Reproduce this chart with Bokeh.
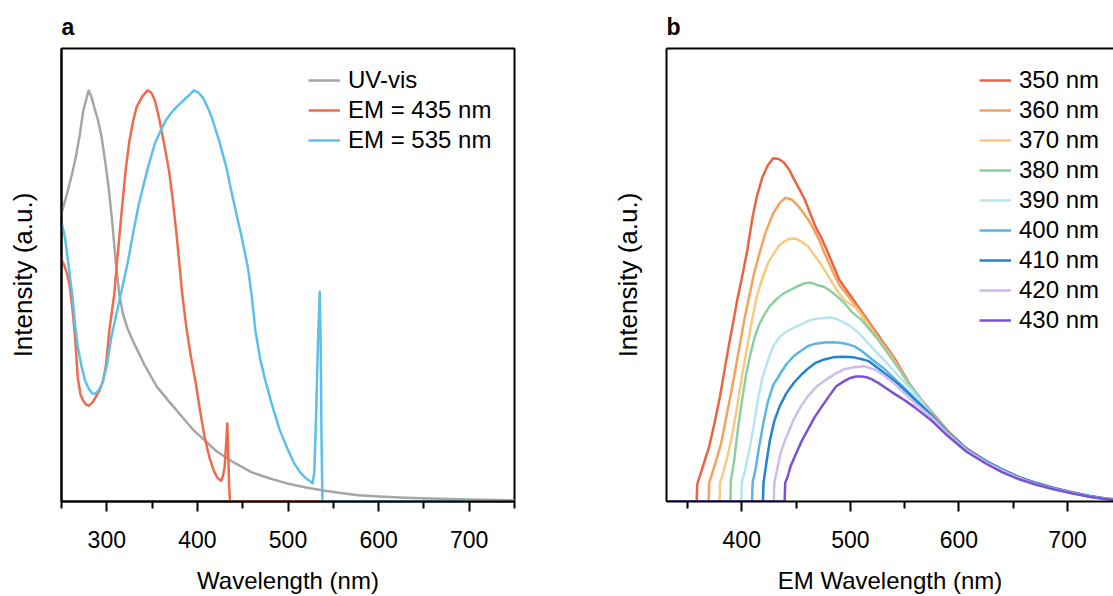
from bokeh.plotting import figure
from bokeh.models import Range1d, FixedTicker, LinearAxis, Legend, LegendItem
from bokeh.layouts import row
from bokeh.embed import file_html
from bokeh.resources import INLINE

FONT = "Liberation Sans"

# ---------------- Panel a data ----------------
uv_nm = [250, 255, 258, 262, 266, 270, 274, 277, 280, 283, 286, 290, 294, 298, 302, 306, 310, 314, 318, 323,
         329, 341, 355, 370, 380, 395, 410, 420, 440, 460, 480, 499, 520, 539, 560, 578, 600, 630, 657, 700, 750]
uv_v = [0.70, 0.74, 0.765, 0.80, 0.84, 0.89, 0.95, 0.975, 1.0, 0.985, 0.96, 0.93, 0.89, 0.83, 0.764, 0.68, 0.58,
        0.50, 0.455, 0.42, 0.39, 0.335, 0.28, 0.24, 0.214, 0.175, 0.145, 0.124, 0.095, 0.071, 0.056, 0.044,
        0.034, 0.027, 0.02, 0.015, 0.012, 0.009, 0.007, 0.005, 0.003]

em435_nm = [250, 253, 256, 259, 262, 265, 268, 271, 274, 277, 280, 284, 288, 292, 296, 299, 303, 308, 312, 317,
            321, 325, 329, 333, 339, 345, 349, 353, 357, 361, 365, 369, 373, 377, 383, 388, 393, 398, 403, 408,
            413, 418, 422, 426, 428, 430, 432, 433, 434, 435, 436, 450, 500, 535]
em435_v = [0.59, 0.575, 0.555, 0.525, 0.47, 0.40, 0.30, 0.26, 0.245, 0.236, 0.233, 0.24, 0.255, 0.27, 0.295,
           0.33, 0.42, 0.50, 0.60, 0.72, 0.81, 0.878, 0.925, 0.96, 0.985, 1.0, 0.995, 0.976, 0.94, 0.895, 0.85,
           0.80, 0.73, 0.65, 0.51, 0.42, 0.35, 0.29, 0.22, 0.156, 0.11, 0.075, 0.058, 0.05, 0.06, 0.083, 0.15,
           0.19, 0.12, 0.04, 0.0, 0.0, 0.0, 0.0]

em535_nm = [250, 254, 258, 262, 265, 268, 272, 276, 280, 284, 287, 291, 295, 300, 305, 312, 317, 323, 329, 335,
            341, 347, 353, 359, 365, 371, 377, 383, 388, 392, 396, 401, 406, 411, 416, 420, 424, 428, 432, 436,
            440, 444, 448, 452, 456, 460, 464, 469, 475, 483, 491, 499, 507, 513, 519, 524, 527, 529, 531, 533,
            535, 536, 537, 538, 560, 600, 650, 700]
em535_v = [0.68, 0.64, 0.57, 0.50, 0.43, 0.375, 0.33, 0.294, 0.275, 0.263, 0.262, 0.27, 0.287, 0.33, 0.40, 0.47,
           0.52, 0.58, 0.652, 0.72, 0.774, 0.825, 0.87, 0.90, 0.927, 0.945, 0.96, 0.972, 0.983, 0.99, 1.0, 0.995,
           0.983, 0.96, 0.934, 0.905, 0.878, 0.845, 0.813, 0.77, 0.73, 0.69, 0.652, 0.61, 0.565, 0.50, 0.416,
           0.35, 0.294, 0.23, 0.173, 0.13, 0.092, 0.072, 0.058, 0.05, 0.044, 0.07, 0.21, 0.38, 0.51, 0.40, 0.15,
           0.0, 0.0, 0.0, 0.0, 0.0]

a_ticks = [300, 400, 500, 600, 700]
a_minor = [250, 350, 450, 550, 650, 750]

# ---------------- Panel b data ----------------
b_labels = ["350 nm", "360 nm", "370 nm", "380 nm", "390 nm", "400 nm", "410 nm", "420 nm", "430 nm"]
b_colors = ["#EA6441", "#F5A25E", "#F8CA80", "#8DCFA0", "#B8E3F2", "#5AB6E4", "#2383D1", "#CDBDEA", "#7B52D3"]

x350 = [330, 358.5, 359, 361, 365, 370, 375, 380, 384, 388, 392, 396, 400, 405, 410, 414, 419, 424, 429, 434, 439,
        444, 448, 453, 458, 463, 468, 473, 478, 484, 490, 500, 510, 520, 530, 542, 555, 565, 575, 590, 607, 625,
        640, 656, 672, 689, 705, 721, 735, 745]
y350 = [0, 0, 0.05, 0.07, 0.11, 0.16, 0.23, 0.307, 0.38, 0.453, 0.52, 0.59, 0.65, 0.73, 0.83, 0.89, 0.945, 0.98,
        1.0, 0.998, 0.987, 0.965, 0.94, 0.91, 0.88, 0.84, 0.80, 0.77, 0.735, 0.69, 0.645, 0.60, 0.555, 0.51,
        0.465, 0.41, 0.34, 0.298, 0.26, 0.205, 0.155, 0.118, 0.093, 0.07, 0.053, 0.038, 0.026, 0.015, 0.008, 0.005]

x360 = [330, 369.5, 370, 372, 376, 381, 386, 391, 395, 399, 403, 407, 411, 416, 422, 429, 435, 440, 446, 452, 457,
        461, 466, 471, 476, 481, 486, 490, 500, 510, 520, 530, 542, 555, 565, 575, 590, 607, 625, 640, 656, 672,
        689, 705, 721, 735, 745]
y360 = [0, 0, 0.055, 0.075, 0.115, 0.17, 0.25, 0.33, 0.40, 0.47, 0.54, 0.60, 0.66, 0.72, 0.785, 0.84, 0.87, 0.885,
        0.88, 0.861, 0.84, 0.822, 0.795, 0.764, 0.725, 0.69, 0.655, 0.63, 0.59, 0.55, 0.505, 0.46, 0.405, 0.337,
        0.295, 0.257, 0.203, 0.153, 0.117, 0.092, 0.069, 0.052, 0.037, 0.025, 0.015, 0.008, 0.005]

x370 = [330, 379.5, 380, 382, 386, 391, 396, 401, 405, 409, 414, 420, 425, 429, 434, 439, 444, 450, 456, 461, 466,
        470, 474, 480, 487, 495, 505, 515, 525, 535, 545, 555, 565, 575, 590, 607, 625, 640, 656, 672, 689, 705,
        721, 735, 745]
y370 = [0, 0, 0.055, 0.075, 0.12, 0.19, 0.28, 0.38, 0.45, 0.52, 0.60, 0.66, 0.70, 0.72, 0.745, 0.757, 0.765,
        0.766, 0.755, 0.744, 0.72, 0.705, 0.686, 0.655, 0.618, 0.585, 0.565, 0.52, 0.475, 0.435, 0.385, 0.335,
        0.295, 0.255, 0.20, 0.152, 0.116, 0.091, 0.068, 0.051, 0.036, 0.025, 0.014, 0.008, 0.005]

x380 = [330, 389.5, 390, 393, 396, 400, 404, 408, 412, 416, 420, 426, 432, 438, 444, 450, 457, 464, 470, 476, 481,
        487, 494, 502, 510, 518, 526, 535, 545, 555, 565, 575, 590, 607, 625, 640, 656, 672, 689, 705, 721, 735, 745]
y380 = [0, 0, 0.06, 0.12, 0.20, 0.29, 0.37, 0.43, 0.48, 0.515, 0.54, 0.57, 0.59, 0.605, 0.615, 0.625, 0.635,
        0.638, 0.63, 0.625, 0.615, 0.60, 0.58, 0.55, 0.53, 0.50, 0.47, 0.43, 0.385, 0.34, 0.297, 0.256, 0.202,
        0.153, 0.116, 0.091, 0.068, 0.051, 0.036, 0.025, 0.014, 0.008, 0.005]

x390 = [330, 399.5, 400, 403, 407, 411, 415, 419, 424, 429, 435, 441, 447, 454, 461, 468, 475, 482, 489, 495, 500,
        508, 516, 524, 533, 543, 555, 565, 575, 590, 607, 625, 640, 656, 672, 689, 705, 721, 735, 745]
y390 = [0, 0, 0.055, 0.09, 0.15, 0.22, 0.30, 0.36, 0.41, 0.453, 0.48, 0.495, 0.505, 0.515, 0.526, 0.532, 0.535,
        0.536, 0.53, 0.52, 0.511, 0.49, 0.463, 0.435, 0.405, 0.37, 0.33, 0.293, 0.253, 0.20, 0.152, 0.116, 0.091,
        0.068, 0.051, 0.036, 0.025, 0.014, 0.008, 0.005]

x400 = [330, 409.5, 410, 413, 416, 420, 424, 429, 435, 441, 448, 455, 461, 468, 476, 484, 492, 498, 504, 512, 520,
        530, 540, 550, 560, 575, 590, 607, 625, 640, 656, 672, 689, 705, 721, 735, 745]
y400 = [0, 0, 0.055, 0.10, 0.16, 0.23, 0.29, 0.34, 0.37, 0.40, 0.424, 0.44, 0.453, 0.46, 0.463, 0.464, 0.462,
        0.458, 0.452, 0.435, 0.414, 0.39, 0.36, 0.33, 0.298, 0.252, 0.20, 0.152, 0.116, 0.091, 0.069, 0.052,
        0.037, 0.025, 0.015, 0.008, 0.005]

x410 = [330, 419.5, 420, 423, 426, 430, 435, 441, 448, 455, 462, 468, 476, 484, 493, 503, 510, 517, 525, 535, 545,
        555, 565, 575, 590, 607, 625, 640, 656, 672, 689, 705, 721, 735, 745]
y410 = [0, 0, 0.055, 0.12, 0.18, 0.235, 0.278, 0.315, 0.346, 0.37, 0.39, 0.404, 0.414, 0.42, 0.422, 0.42, 0.415,
        0.409, 0.39, 0.365, 0.34, 0.31, 0.28, 0.25, 0.20, 0.153, 0.118, 0.093, 0.07, 0.053, 0.038, 0.026, 0.016,
        0.009, 0.006]

x420 = [330, 429.5, 430, 433, 436, 440, 444, 448, 454, 461, 469, 478, 486, 494, 503, 513, 522, 530, 540, 550, 560,
        575, 590, 607, 625, 640, 656, 672, 689, 705, 721, 735, 745]
y420 = [0, 0, 0.055, 0.10, 0.143, 0.18, 0.21, 0.24, 0.275, 0.307, 0.335, 0.356, 0.372, 0.385, 0.391, 0.394, 0.385,
        0.37, 0.345, 0.315, 0.285, 0.245, 0.197, 0.15, 0.114, 0.09, 0.067, 0.05, 0.036, 0.024, 0.014, 0.008, 0.005]

x430 = [330, 439.5, 440, 442, 445, 450, 455, 461, 467, 474, 481, 487, 494, 500, 505, 510, 515, 520, 526, 533, 540,
        550, 559, 575, 590, 607, 625, 640, 656, 672, 689, 705, 721, 735, 745]
y430 = [0, 0, 0.055, 0.07, 0.103, 0.14, 0.175, 0.21, 0.245, 0.278, 0.31, 0.336, 0.35, 0.36, 0.364, 0.364, 0.362,
        0.356, 0.345, 0.33, 0.315, 0.295, 0.275, 0.235, 0.19, 0.145, 0.11, 0.085, 0.064, 0.048, 0.034, 0.023,
        0.013, 0.007, 0.004]

b_x = [x350, x360, x370, x380, x390, x400, x410, x420, x430]
b_y = [y350, y360, y370, y380, y390, y400, y410, y420, y430]

b_ticks = [400, 500, 600, 700]
b_minor = [350, 450, 550, 650]


def style(p, ticks, minor, xlabel):
    p.xgrid.visible = False
    p.ygrid.visible = False
    p.background_fill_color = "white"
    p.border_fill_color = "white"
    xa = p.xaxis[0]
    xa.ticker = FixedTicker(ticks=ticks, minor_ticks=minor)
    xa.axis_label = xlabel
    ya = p.yaxis[0]
    ya.ticker = FixedTicker(ticks=[])
    ya.axis_label = "Intensity (a.u.)"
    for ax in (xa, ya):
        ax.axis_line_color = "black"
        ax.axis_line_width = 2
        ax.major_tick_line_color = "black"
        ax.minor_tick_line_color = "black"
        ax.major_tick_line_width = 2
        ax.minor_tick_line_width = 2
        ax.major_tick_in = 0
        ax.minor_tick_in = 0
        ax.major_tick_out = 10
        ax.minor_tick_out = 7
        ax.major_label_text_font = FONT
        ax.major_label_text_font_size = "23px"
        ax.major_label_text_color = "black"
        ax.axis_label_text_font = FONT
        ax.axis_label_text_font_style = "normal"
        ax.axis_label_text_color = "black"
    xa.axis_label_text_font_size = "24px"
    ya.axis_label_text_font_size = "26px"
    ya.axis_label_standoff = 24
    xa.major_label_standoff = 19
    xa.axis_label_standoff = 16
    p.title.text_font = FONT
    p.title.text_font_size = "23px"
    p.title.text_font_style = "bold"
    p.title.align = "left"
    p.title.text_color = "black"
    p.title.standoff = 17


def make_legend(items, x, y):
    return Legend(items=items, location=(x, y), glyph_width=32, glyph_height=30, label_height=30,
                  label_standoff=8, spacing=0, padding=0, margin=0, border_line_color=None,
                  background_fill_alpha=0, label_text_font=FONT, label_text_font_size="24px",
                  label_text_color="black")


# ---------------- Panel a ----------------
pa = figure(width=560, height=596, output_backend="svg", toolbar_location=None, title="a",
            x_range=Range1d(250, 750), y_range=Range1d(0, 1.102),
            min_border_left=61, min_border_right=46, min_border_top=48, min_border_bottom=95)
style(pa, a_ticks, a_minor, "Wavelength (nm)")
pa.outline_line_color = "black"
pa.outline_line_width = 2
pa.outline_line_alpha = 1

r_uv = pa.line(uv_nm, uv_v, line_color="#A6A6A6", line_width=2.5, line_join="round")
r_435 = pa.line(em435_nm, em435_v, line_color="#EF6B4B", line_width=2.5, line_join="round")
r_535 = pa.line(em535_nm, em535_v, line_color="#5CC0E8", line_width=2.5, line_join="round")

leg_a = make_legend([LegendItem(label="UV-vis", renderers=[r_uv]),
                     LegendItem(label="EM = 435 nm", renderers=[r_435]),
                     LegendItem(label="EM = 535 nm", renderers=[r_535])], 247, 346)
pa.add_layout(leg_a)

# ---------------- Panel b ----------------
pb = figure(width=553, height=596, output_backend="svg", toolbar_location=None, title="b",
            x_range=Range1d(330.7, 742.3), y_range=Range1d(0, 1.32),
            min_border_left=106, min_border_right=0, min_border_top=48, min_border_bottom=95)
style(pb, b_ticks, b_minor, "EM Wavelength (nm)")
pb.outline_line_color = None
top_axis = LinearAxis(ticker=FixedTicker(ticks=[]), axis_line_color="black", axis_line_width=2,
                      major_tick_out=0, minor_tick_out=0, major_label_text_font_size="0px")
pb.add_layout(top_axis, "above")

b_items = []
for xs, ys, col, lab in zip(b_x, b_y, b_colors, b_labels):
    r = pb.line(xs, ys, line_color=col, line_width=2.5, line_join="round")
    b_items.append(LegendItem(label=lab, renderers=[r]))
leg_b = make_legend(b_items, 313, 166)
pb.add_layout(leg_b)

layout = row(pa, pb)
open("out.html", "w").write(file_html(layout, INLINE))
